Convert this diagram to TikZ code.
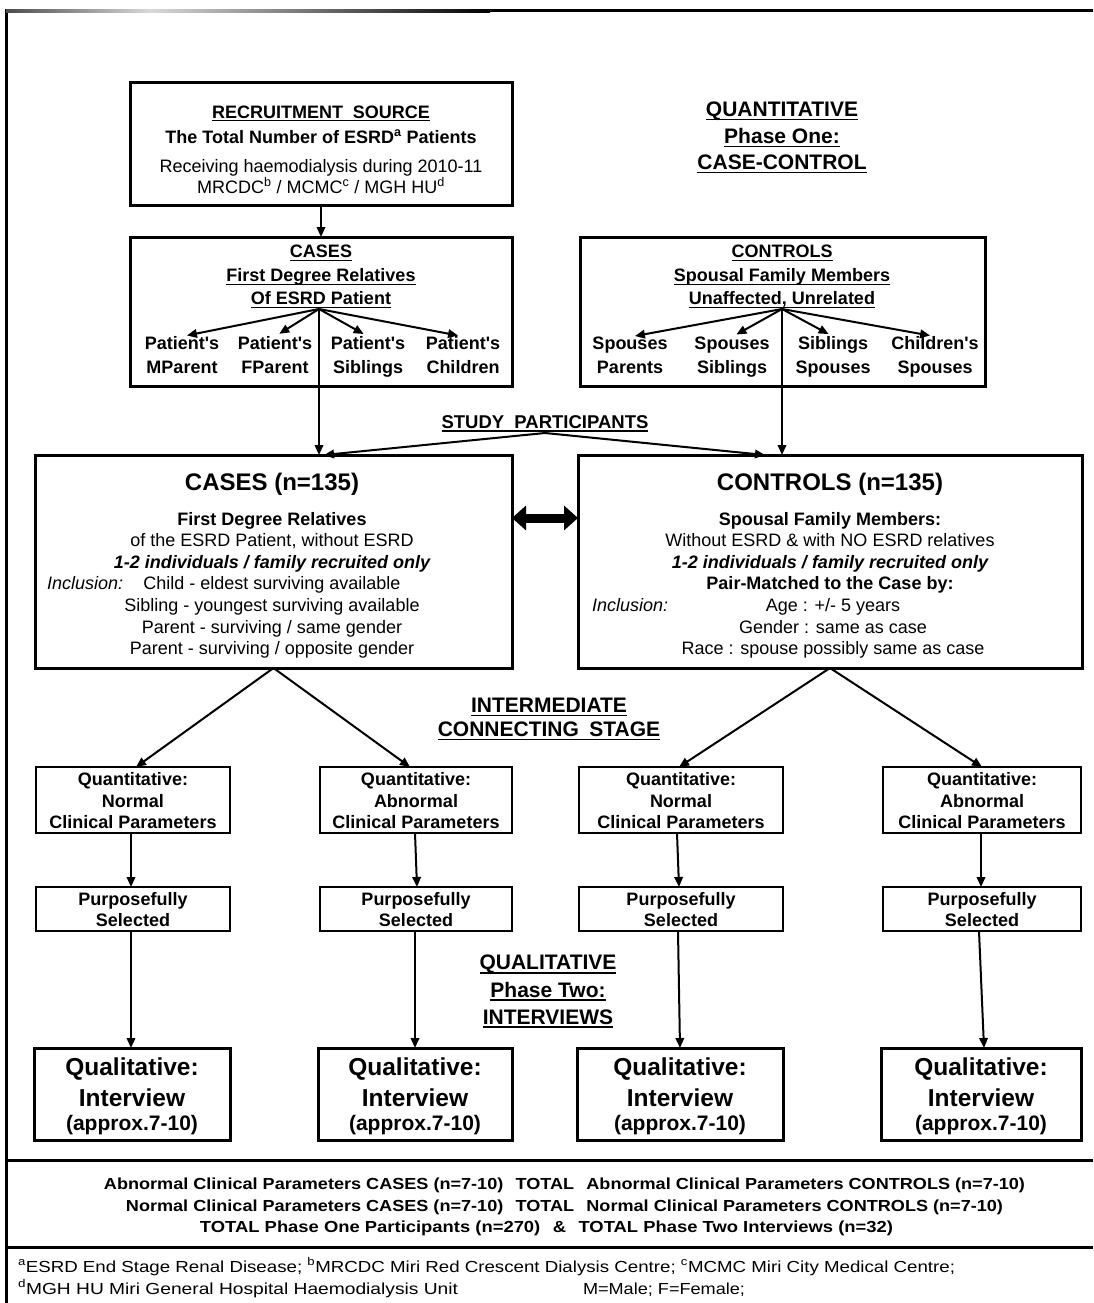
\documentclass[tikz,border=0pt]{standalone}
\usepackage{fontspec}
\setmainfont{Liberation Sans}[Ligatures=TeXOff]
\usepackage{graphicx}
\usetikzlibrary{arrows.meta}
\newcommand\fsz[1]{\fontsize{#1}{#1}\selectfont}
\newcommand\ul[1]{\setbox0\hbox{#1}\rlap{\rule[-0.19em]{\wd0}{0.075em}}\box0}
\newcommand\T[5][]{\node[t,#1] (#2) at (#3,#4) {#5};}
\newcommand\wbox[2]{\resizebox{#1pt}{\height}{#2}}
\begin{document}
\begin{tikzpicture}[x=1pt,y=-1pt,
  bx/.style={draw, line width=3pt, inner sep=0pt, outer sep=0pt},
  tbx/.style={draw, line width=1.4pt, inner sep=0pt, outer sep=0pt},
  t/.style={inner sep=0pt, outer sep=0pt, anchor=base},
  arr/.style={line width=2pt, -{Triangle[length=10pt,width=8.5pt]}},
  hb/.style={font=\fsz{18}\bfseries},
  rg/.style={font=\fsz{18}},
  bi/.style={font=\fsz{18}\bfseries\itshape},
  it/.style={font=\fsz{18}\itshape},
  big/.style={font=\fsz{24}\bfseries},
  lab/.style={font=\fsz{21}\bfseries},
  ib/.style={font=\fsz{24.5}\bfseries},
  ab/.style={font=\fsz{21}\bfseries},
  ft/.style={font=\fsz{16}\bfseries},
  fn/.style={font=\fsz{16}}
]
\useasboundingbox (0,0) rectangle (1093,1303);
\fill[white] (0,0) rectangle (1093,1303);
% outer frame
\draw[line width=3pt, black] (6,1303) -- (6,11) -- (1093,11);
\shade[left color=black!70, right color=black!15] (6,9.5) rectangle (150,12.5);
\shade[left color=black!15, right color=black] (150,9.5) rectangle (490,12.5);

% recruitment source
\node[bx, minimum width=382, minimum height=122] (rec) at (321,144) {};
\T[hb]{recA}{321}{118}{\ul{RECRUITMENT\hspace{0.55em}SOURCE}}
\T[hb]{recB}{321}{143}{The Total Number of ESRD\textsuperscript{a} Patients}
\T[rg]{recC}{321}{172}{Receiving haemodialysis during 2010-11}
\T[rg]{recD}{321}{193}{MRCDC\textsuperscript{b} / MCMC\textsuperscript{c} / MGH HU\textsuperscript{d}}

% quantitative label
\T[lab]{qA}{782}{116.5}{\ul{QUANTITATIVE}}
\T[lab]{qB}{782}{143.5}{\ul{Phase One:}}
\T[lab]{qC}{782}{169.5}{\ul{CASE-CONTROL}}

% cases top box
\node[bx, minimum width=382, minimum height=149] (ctop) at (321,311.5) {};
\T[hb]{ctA}{321}{257.5}{\ul{CASES}}
\T[hb]{ctB}{321}{281.5}{\ul{First Degree Relatives}}
\T[hb]{ctC}{321}{304.5}{\ul{Of ESRD Patient}}
\coordinate (hubA) at (319,309);
\T[hb]{ia1}{182}{349.5}{Patient's}\T[hb]{ib1}{182}{373.5}{MParent}
\T[hb]{ia2}{275}{349.5}{Patient's}\T[hb]{ib2}{275}{373.5}{FParent}
\T[hb]{ia3}{368}{349.5}{Patient's}\T[hb]{ib3}{368}{373.5}{Siblings}
\T[hb]{ia4}{463}{349.5}{Patient's}\T[hb]{ib4}{463}{373.5}{Children}
\foreach \n in {ia1,ia2,ia3,ia4} \draw[arr, shorten >=5pt] (hubA) -- (\n.north);

% controls top box
\node[bx, minimum width=405, minimum height=149] (ktop) at (782.5,311.5) {};
\T[hb]{ktA}{782}{257.5}{\ul{CONTROLS}}
\T[hb]{ktB}{782}{281.5}{\ul{Spousal Family Members}}
\T[hb]{ktC}{782}{304.5}{\ul{Unaffected, Unrelated}}
\coordinate (hubB) at (782,309);
\T[hb]{ja1}{630}{349.5}{Spouses}\T[hb]{jb1}{630}{373.5}{Parents}
\T[hb]{ja2}{732}{349.5}{Spouses}\T[hb]{jb2}{732}{373.5}{Siblings}
\T[hb]{ja3}{833}{349.5}{Siblings}\T[hb]{jb3}{833}{373.5}{Spouses}
\T[hb]{ja4}{935}{349.5}{Children's}\T[hb]{jb4}{935}{373.5}{Spouses}
\foreach \n in {ja1,ja2,ja3,ja4} \draw[arr, shorten >=5pt] (hubB) -- (\n.north);

\draw[arr] (rec.south) -- (ctop.north);

% big boxes
\node[bx, minimum width=477, minimum height=213] (cbig) at (273.5,561.5) {};
\node[bx, minimum width=504, minimum height=213] (kbig) at (830,561.5) {};
\draw[arr] (hubA) -- (hubA |- cbig.north);
\draw[arr] (hubB) -- (hubB |- kbig.north);

% study participants
\T[font=\fsz{18.5}\bfseries]{sp}{545}{428}{\ul{STUDY\hspace{0.55em}PARTICIPANTS}}
\coordinate (spA) at (545,433);
\coordinate (spL) at (324,455);
\coordinate (spR) at (765,455);
\draw[arr] (spA) -- (spL);
\draw[arr] (spA) -- (spR);

\draw[line width=9pt, {Triangle[length=14pt,width=24pt]}-{Triangle[length=14pt,width=24pt]}]
  ([yshift=43.5pt]cbig.east) -- ([yshift=43.5pt]kbig.west);

% cases text
\T[big]{cA}{272}{490.5}{CASES (n=135)}
\T[hb]{cB}{272}{525.5}{First Degree Relatives}
\T[rg]{cC}{272}{546.5}{of the ESRD Patient, without ESRD}
\T[bi]{cD}{272}{568.5}{1-2 individuals / family recruited only}
\node[t, it, anchor=base west] (cE) at (47,589.5) {Inclusion:};
\T[rg]{cF}{272}{589.5}{Child - eldest surviving available}
\T[rg]{cG}{272}{611.5}{Sibling - youngest surviving available}
\T[rg]{cH}{272}{633.5}{Parent - surviving / same gender}
\T[rg]{cI}{272}{654.5}{Parent - surviving / opposite gender}

% controls text
\T[big]{kA}{830}{490.5}{CONTROLS (n=135)}
\T[hb]{kB}{830}{525.5}{Spousal Family Members:}
\T[rg]{kC}{830}{546.5}{Without ESRD \& with NO ESRD relatives}
\T[bi]{kD}{830}{568.5}{1-2 individuals / family recruited only}
\T[hb]{kE}{830}{589.5}{Pair-Matched to the Case by:}
\node[t, it, anchor=base west] (kF) at (592,611.5) {Inclusion:};
\T[rg]{kG}{833}{611.5}{Age : +/- 5 years}
\T[rg]{kH}{833}{633.5}{Gender : same as case}
\T[rg]{kI}{833}{654.5}{Race : spouse possibly same as case}

% intermediate label
\T[lab]{imA}{549}{712.5}{\ul{INTERMEDIATE}}
\T[lab]{imB}{549}{736.5}{\ul{CONNECTING\hspace{0.5em}STAGE}}

% quantitative boxes
\node[tbx, minimum width=194, minimum height=66] (q1) at (133,800) {};
\node[tbx, minimum width=192, minimum height=66] (q2) at (416,800) {};
\node[tbx, minimum width=204, minimum height=66] (q3) at (681,800) {};
\node[tbx, minimum width=198, minimum height=66] (q4) at (982,800) {};
\T[hb]{q1a}{133}{785.5}{Quantitative:}\T[hb]{q1b}{133}{807.5}{Normal}\T[hb]{q1c}{133}{828.5}{Clinical Parameters}
\T[hb]{q2a}{416}{785.5}{Quantitative:}\T[hb]{q2b}{416}{807.5}{Abnormal}\T[hb]{q2c}{416}{828.5}{Clinical Parameters}
\T[hb]{q3a}{681}{785.5}{Quantitative:}\T[hb]{q3b}{681}{807.5}{Normal}\T[hb]{q3c}{681}{828.5}{Clinical Parameters}
\T[hb]{q4a}{982}{785.5}{Quantitative:}\T[hb]{q4b}{982}{807.5}{Abnormal}\T[hb]{q4c}{982}{828.5}{Clinical Parameters}

\draw[arr] (cbig.south) -- ([xshift=3pt]q1.north);
\draw[arr] (cbig.south) -- ([xshift=-6pt]q2.north);
\draw[arr] (kbig.south) -- ([xshift=-2pt]q3.north);
\draw[arr] (kbig.south) -- (q4.north);

% purposefully selected
\node[tbx, minimum width=194, minimum height=44] (p1) at (133,909) {};
\node[tbx, minimum width=192, minimum height=44] (p2) at (416,909) {};
\node[tbx, minimum width=204, minimum height=44] (p3) at (681,909) {};
\node[tbx, minimum width=198, minimum height=44] (p4) at (982,909) {};
\foreach \k/\x in {1/133,2/416,3/681,4/982}{
  \T[hb]{p\k a}{\x}{905.5}{Purposefully}
  \T[hb]{p\k b}{\x}{926.5}{Selected}
}
\draw[arr] ([xshift=-2pt]q1.south) -- ([xshift=-2pt]p1.north);
\draw[arr] ([xshift=-1pt]q2.south) -- ([xshift=1pt]p2.north);
\draw[arr] ([xshift=-4pt]q3.south) -- ([xshift=-2pt]p3.north);
\draw[arr] ([xshift=-1pt]q4.south) -- ([xshift=-1pt]p4.north);

% qualitative label
\T[lab]{qlA}{548}{969.5}{\ul{QUALITATIVE}}
\T[lab]{qlB}{548}{997}{\ul{Phase Two:}}
\T[lab]{qlC}{548}{1024}{\ul{INTERVIEWS}}

% interview boxes
\node[bx, minimum width=196, minimum height=92] (i1) at (132,1094) {};
\node[bx, minimum width=194, minimum height=92] (i2) at (415,1094) {};
\node[bx, minimum width=206, minimum height=92] (i3) at (680,1094) {};
\node[bx, minimum width=200, minimum height=92] (i4) at (981,1094) {};
\foreach \k/\x in {1/132,2/415,3/680,4/981}{
  \T[ib]{i\k a}{\x}{1075}{Qualitative:}
  \T[ib]{i\k b}{\x}{1106}{Interview}
  \T[ab]{i\k c}{\x}{1130}{(approx.7-10)}
}
\draw[arr] ([xshift=-2pt]p1.south) -- ([xshift=-1pt]i1.north);
\draw[arr] ([xshift=-1pt]p2.south) -- (i2.north);
\draw[arr] ([xshift=-3pt]p3.south) -- (i3.north);
\draw[arr] ([xshift=-3pt]p4.south) -- ([xshift=3pt]i4.north);

% footer
\draw[line width=3pt] (6,1160) -- (1093,1160);
\draw[line width=3pt] (6,1247) -- (1093,1247);
\T[ft]{f1}{564.5}{1189.5}{\wbox{921}{Abnormal Clinical Parameters CASES (n=7-10)\hspace{0.4em} TOTAL\hspace{0.4em} Abnormal Clinical Parameters CONTROLS (n=7-10)}}
\T[ft]{f2}{564.5}{1211.5}{\wbox{877}{Normal Clinical Parameters CASES (n=7-10)\hspace{0.4em} TOTAL\hspace{0.4em} Normal Clinical Parameters CONTROLS (n=7-10)}}
\T[ft]{f3}{546.5}{1232.5}{\wbox{693}{TOTAL Phase One Participants (n=270)\hspace{0.4em} \&\hspace{0.4em} TOTAL Phase Two Interviews (n=32)}}
\node[t, fn, anchor=base west] (fn1) at (18,1272) {\wbox{937}{\textsuperscript{a}ESRD End Stage Renal Disease; \textsuperscript{b}MRCDC Miri Red Crescent Dialysis Centre; \textsuperscript{c}MCMC Miri City Medical Centre;}};
\node[t, fn, anchor=base west] (fn2) at (18,1294) {\wbox{440}{\textsuperscript{d}MGH HU Miri General Hospital Haemodialysis Unit}};
\node[t, fn, anchor=base west] (fn3) at (583,1294) {\wbox{162}{M=Male; F=Female;}};
\end{tikzpicture}
\end{document}
